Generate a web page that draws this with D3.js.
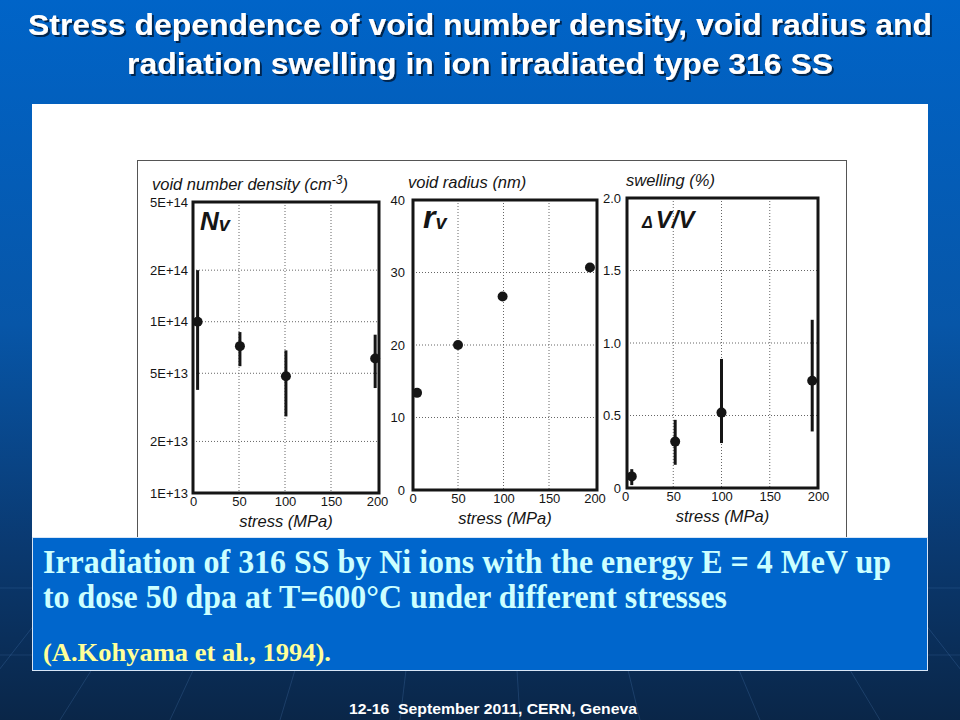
<!DOCTYPE html>
<html>
<head>
<meta charset="utf-8">
<script src="https://cdn.jsdelivr.net/npm/d3@7"></script>
<style>
  html, body { margin: 0; padding: 0; background: #0a2a55; }
  svg { display: block; }
</style>
</head>
<body>
<svg id="slide" width="960" height="720"></svg>
<script>
// Stress dependence of voids in ion irradiated 316 SS (Kohyama et al., 1994)
const stressTicks = [0, 50, 100, 150, 200];

// void number density (cm^-3), log axis
const nvTicks = [1e13, 2e13, 5e13, 1e14, 2e14, 5e14];
const nvTickLabels = ["1E+13", "2E+13", "5E+13", "1E+14", "2E+14", "5E+14"];
const nvStress = [5, 51, 101, 198];
const nvValue = [1.0e14, 7.2e13, 4.8e13, 6.1e13];
const nvLow = [4.0e13, 5.5e13, 2.8e13, 4.1e13];
const nvHigh = [2.0e14, 8.7e13, 6.8e13, 8.4e13];

// void radius (nm)
const rvTicks = [0, 10, 20, 30, 40];
const rvTickLabels = ["0", "10", "20", "30", "40"];
const rvStress = [5, 50, 99, 195];
const rvValue = [13.4, 20.0, 26.7, 30.7];

// swelling (%)
const swTicks = [0, 0.5, 1.0, 1.5, 2.0];
const swTickLabels = ["0", "0.5", "1.0", "1.5", "2.0"];
const swStress = [7, 52, 100, 194];
const swValue = [0.08, 0.32, 0.52, 0.74];
const swLow = [0.02, 0.16, 0.31, 0.39];
const swHigh = [0.13, 0.47, 0.89, 1.16];

const svg = d3.select("#slide");
const sans = "'Liberation Sans', Arial, Helvetica, sans-serif";
const serif = "'Liberation Serif', 'Times New Roman', serif";

// ---- background ----
const defs = svg.append("defs");
const bg = defs.append("linearGradient")
  .attr("id", "bg").attr("x1", 0).attr("y1", 0).attr("x2", 0).attr("y2", 1);
bg.append("stop").attr("offset", "0%").attr("stop-color", "#0064c8");
bg.append("stop").attr("offset", "45%").attr("stop-color", "#0756a8");
bg.append("stop").attr("offset", "75%").attr("stop-color", "#0a3a72");
bg.append("stop").attr("offset", "100%").attr("stop-color", "#0a2648");

const shadow = defs.append("filter").attr("id", "shadow")
  .attr("x", "-5%").attr("y", "-20%").attr("width", "110%").attr("height", "150%");
shadow.append("feDropShadow")
  .attr("dx", 2).attr("dy", 2).attr("stdDeviation", 0.6)
  .attr("flood-color", "#001a40").attr("flood-opacity", 0.9);

svg.append("rect").attr("width", 960).attr("height", 720).attr("fill", "url(#bg)");

// faint decorative rays in the lower part of the slide
const rayStarts = [-40, 60, 170, 280, 400, 520, 640, 760, 880, 1000];
svg.append("g")
  .attr("stroke", "#6fa8e8").attr("stroke-opacity", 0.18).attr("stroke-width", 1)
  .selectAll("line").data(rayStarts).join("line")
  .attr("x1", d => d).attr("y1", 720)
  .attr("x2", d => 480 + (d - 480) * 0.55).attr("y2", 420);
svg.append("g")
  .attr("stroke", "#6fa8e8").attr("stroke-opacity", 0.15)
  .selectAll("line").data([588, 655]).join("line")
  .attr("x1", 0).attr("x2", 960).attr("y1", d => d).attr("y2", d => d);

// ---- title ----
const titleLines = [
  "Stress dependence of void number density, void radius and",
  "radiation swelling in ion irradiated type 316 SS"
];
svg.append("g").attr("filter", "url(#shadow)")
  .selectAll("text").data(titleLines).join("text")
  .attr("x", 480).attr("y", (d, i) => 35 + i * 39)
  .attr("text-anchor", "middle")
  .attr("fill", "#fff").attr("font-family", sans).attr("font-weight", 700)
  .attr("font-size", 30)
  .attr("textLength", (d, i) => (i === 0 ? 904 : 706))
  .attr("lengthAdjust", "spacingAndGlyphs")
  .text(d => d);

// ---- white picture area + scanned figure frame ----
svg.append("rect").attr("x", 32).attr("y", 104).attr("width", 896).attr("height", 434)
  .attr("fill", "#fff");
svg.append("rect").attr("x", 137.5).attr("y", 160.5).attr("width", 709).attr("height", 380)
  .attr("fill", "none").attr("stroke", "#555").attr("stroke-width", 1);

const ink = "#151515";

const panels = [
  {
    frame: { x0: 193, x1: 379, y0: 202, y1: 493 },
    xRange: [193, 377],
    y: d3.scaleLog().domain([1e13, 5e14]).range([493, 202]),
    ticks: nvTicks, labels: nvTickLabels, pad: 5,
    grid: nvTicks.slice(1, -1),
    xs: nvStress, vs: nvValue, lo: nvLow, hi: nvHigh,
    title: "void number density (cm", sup: "-3", titleTail: ")", titleX: 152, titleY: 190
  },
  {
    frame: { x0: 413, x1: 597, y0: 200, y1: 490 },
    xRange: [412.5, 594.5],
    y: d3.scaleLinear().domain([0, 40]).range([490, 200]),
    ticks: rvTicks, labels: rvTickLabels, pad: 8,
    grid: rvTicks.slice(1, -1),
    xs: rvStress, vs: rvValue, lo: null, hi: null,
    title: "void radius (nm)", titleX: 408, titleY: 188
  },
  {
    frame: { x0: 627, x1: 818, y0: 198, y1: 488 },
    xRange: [625, 818],
    y: d3.scaleLinear().domain([0, 2]).range([488, 198]),
    ticks: swTicks, labels: swTickLabels, pad: 6,
    grid: swTicks.slice(1, -1),
    xs: swStress, vs: swValue, lo: swLow, hi: swHigh,
    title: "swelling (%)", titleX: 626, titleY: 186
  }
];

panels.forEach(p => {
  const x = d3.scaleLinear().domain([0, 200]).range(p.xRange);
  const y = p.y;
  const f = p.frame;
  const g = svg.append("g");

  // dotted grid
  g.append("g").selectAll("line").data(stressTicks.slice(1, -1)).join("line")
    .attr("x1", d => x(d)).attr("x2", d => x(d)).attr("y1", f.y0).attr("y2", f.y1)
    .attr("stroke", "#666").attr("stroke-width", 1).attr("stroke-dasharray", "1,2");
  g.append("g").selectAll("line").data(p.grid).join("line")
    .attr("x1", f.x0).attr("x2", f.x1).attr("y1", d => y(d)).attr("y2", d => y(d))
    .attr("stroke", "#666").attr("stroke-width", 1).attr("stroke-dasharray", "1,2");

  // axes (labels only)
  const yAxis = g.append("g").attr("transform", `translate(${f.x0},0)`)
    .call(d3.axisLeft(y).tickValues(p.ticks).tickFormat((d, i) => p.labels[i])
      .tickSize(0).tickPadding(p.pad));
  const xAxis = g.append("g").attr("transform", `translate(0,${f.y1})`)
    .call(d3.axisBottom(x).tickValues(stressTicks).tickFormat(d3.format("d"))
      .tickSize(0).tickPadding(4));
  [yAxis, xAxis].forEach(a => {
    a.select(".domain").remove();
    a.attr("font-size", 13).attr("font-family", sans);
    a.selectAll("text").attr("fill", ink);
  });

  // error bars
  if (p.lo) {
    g.append("g").selectAll("line").data(p.xs).join("line")
      .attr("x1", d => x(d)).attr("x2", d => x(d))
      .attr("y1", (d, i) => y(p.lo[i])).attr("y2", (d, i) => y(p.hi[i]))
      .attr("stroke", ink).attr("stroke-width", 3);
  }
  // points
  g.append("g").selectAll("circle").data(p.xs).join("circle")
    .attr("cx", d => x(d)).attr("cy", (d, i) => y(p.vs[i])).attr("r", 5)
    .attr("fill", ink);

  // heavy frame
  g.append("rect").attr("x", f.x0).attr("y", f.y0)
    .attr("width", f.x1 - f.x0).attr("height", f.y1 - f.y0)
    .attr("fill", "none").attr("stroke", ink).attr("stroke-width", 3);

  // axis titles
  const t = g.append("text").attr("x", p.titleX).attr("y", p.titleY)
    .attr("fill", ink).attr("font-family", sans).attr("font-style", "italic")
    .attr("font-size", 16.5).text(p.title);
  if (p.sup) {
    t.append("tspan").attr("dy", -6).attr("font-size", 12).text(p.sup);
    t.append("tspan").attr("dy", 6).text(p.titleTail);
  }
  g.append("text").attr("x", (f.x0 + f.x1) / 2).attr("y", f.y1 + 34)
    .attr("text-anchor", "middle")
    .attr("fill", ink).attr("font-family", sans).attr("font-style", "italic")
    .attr("font-size", 16.5).text("stress (MPa)");
});

// panel symbols
const sym = svg.append("g").attr("fill", ink).attr("font-family", sans)
  .attr("font-style", "italic").attr("font-weight", 700);
const nvLabel = sym.append("text").attr("x", 200).attr("y", 230).attr("font-size", 26).text("N");
nvLabel.append("tspan").attr("font-size", 20).attr("dy", 1).text("v");
const rvLabel = sym.append("text").attr("x", 423).attr("y", 228).attr("font-size", 32).text("r");
rvLabel.append("tspan").attr("font-size", 20).attr("dy", 1).text("v");
const dvLabel = sym.append("text").attr("x", 642).attr("y", 228).attr("font-size", 16).text("Δ");
dvLabel.append("tspan").attr("font-size", 24).attr("dx", 3).text("V/V");

// ---- caption box ----
svg.append("rect").attr("x", 32.5).attr("y", 537.5).attr("width", 895).attr("height", 133)
  .attr("fill", "#0066cc").attr("stroke", "#d8e6f7").attr("stroke-width", 1);
const capLines = [
  "Irradiation of 316 SS by Ni ions with the energy E = 4 MeV up",
  "to dose 50 dpa at T=600°C under different stresses"
];
svg.append("g").selectAll("text").data(capLines).join("text")
  .attr("x", 43).attr("y", (d, i) => 573 + i * 35)
  .attr("fill", "#ccffff").attr("font-family", serif).attr("font-weight", 700)
  .attr("font-size", 33)
  .attr("textLength", (d, i) => (i === 0 ? 848 : 684))
  .attr("lengthAdjust", "spacingAndGlyphs")
  .text(d => d);
svg.append("text").attr("x", 43).attr("y", 661)
  .attr("fill", "#ffff99").attr("font-family", serif).attr("font-weight", 700)
  .attr("font-size", 25).attr("textLength", 288).attr("lengthAdjust", "spacingAndGlyphs")
  .text("(A.Kohyama et al., 1994).");

// ---- footer ----
svg.append("text").attr("x", 349).attr("y", 714)
  .attr("fill", "#fff").attr("font-family", sans).attr("font-weight", 700)
  .attr("font-size", 15).attr("textLength", 288).attr("lengthAdjust", "spacingAndGlyphs")
  .attr("xml:space", "preserve")
  .text("12-16  September 2011, CERN, Geneva");
</script>
</body>
</html>
